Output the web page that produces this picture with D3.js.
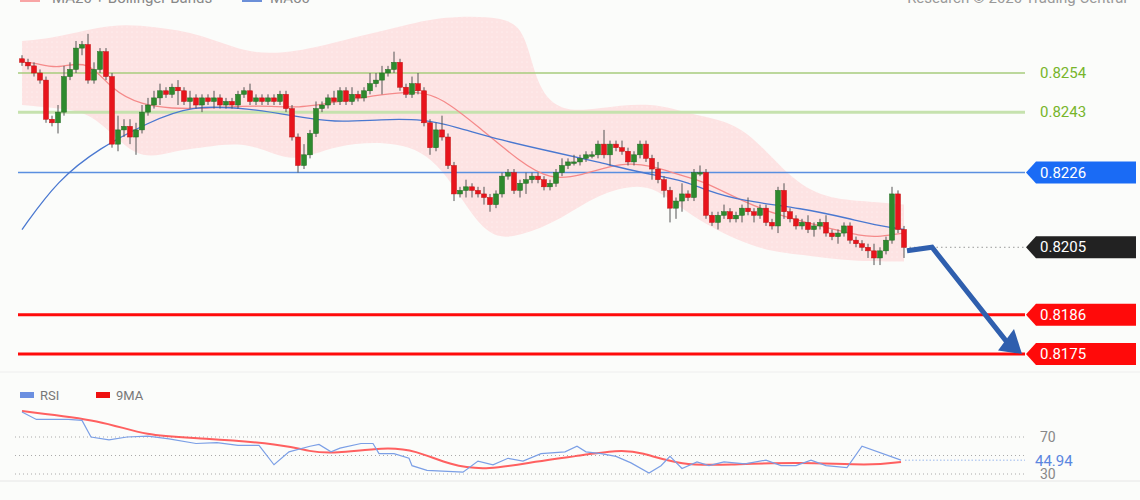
<!DOCTYPE html>
<html><head><meta charset="utf-8">
<script src="https://cdn.jsdelivr.net/npm/d3@7"></script>
<style>body{margin:0;background:#fbfcfa}svg{display:block;font-family:Roboto,Arial,sans-serif}</style>
</head><body><svg id="c" width="1140" height="500"></svg>
<script>
// closes in pips above 0.8200
const closePips=[57,56,54,52,41,40,43,53,55,61,62,52,55,60,53,34,38,39,36,38,43,45,47,49,48,50,49,46,47,45,47,46,47,45,46,45,48,49,46,47,46,47,46,48,44,36,28,31,37,44,45,47,46,49,46,48,47,49,51,52,54,55,57,50,48,51,49,40,33,38,36,28,20,21,22,21,20,19,17,20,25,26,21,23,24,25,24,22,23,26,28,29,29,30,31,31,34,31,34,33,32,29,31,34,30,27,24,21,16,18,20,19,26,26,14,12,14,15,13,14,16,15,14,16,12,11,21,15,13,11,12,10,11,12,9,8,9,11,7,6,5,4,2,4,7,20,10,5];
const upWick=[1,1,1,1,1,1,2,3,2,2,1,3,2,1,1,1,4,2,2,2,2,2,2,2,1,1,2,1,2,1,1,1,2,1,1,1,1,1,2,1,1,1,1,1,1,1,1,3,1,2,1,1,2,1,1,2,1,1,3,2,2,1,3,1,1,2,3,1,1,2,4,1,1,1,2,1,1,2,1,1,1,1,1,1,2,1,1,1,1,1,2,1,2,1,1,1,1,4,1,1,2,1,1,1,1,1,2,1,1,1,3,1,1,2,1,1,1,2,1,1,1,3,1,1,1,1,1,2,1,1,1,2,1,1,2,1,1,1,1,1,1,1,2,1,1,2,1,1];
const loWick=[1,1,1,1,1,1,3,1,1,1,2,1,1,1,1,1,2,2,2,5,1,1,1,2,1,1,4,1,2,1,2,1,2,1,1,1,1,1,1,1,1,1,1,1,1,1,2,1,1,1,1,1,1,1,1,1,1,1,1,1,4,1,1,1,1,1,1,1,2,1,1,1,2,1,2,2,1,2,2,1,1,1,1,2,3,1,1,1,1,1,1,1,1,1,1,1,1,1,3,1,1,1,1,1,1,3,1,2,4,3,3,1,1,1,1,1,2,1,1,1,2,1,2,1,1,1,2,2,1,1,1,1,2,1,1,1,2,1,1,1,1,2,2,2,1,1,1,3];
// indicator read points [candle index, pips]
const ma50Pts=[[0,10],[6,24],[13,33],[21,40],[28,45],[38,44],[45,42],[52,40],[60,41],[67,41],[72,39],[80,35],[88,32],[96,29],[103,26],[110,24],[114,21],[120,18],[130,16],[138,13],[143,11],[147,10]];
const ma20Pts=[[0,57],[2,57],[6,55],[11,58],[15,49],[20,45],[25,44],[30,44],[40,45],[46,44],[53,46],[60,48],[66,49],[70,47],[76,39],[83,29],[88,24],[93,25],[100,29],[105,28],[110,25],[113,24],[120,18],[126,14],[133,11],[140,8],[143,8],[147,9]]; 
const upperPts=[[0,63],[6,64],[15,68],[22,67],[30,65],[38,59],[46,60],[53,63],[63,67],[70,70],[81,70],[84,65],[86,49],[90,43],[96,44],[105,46],[112,42],[120,40],[127,26],[133,19],[140,18],[147,17]];
const lowerPts=[[0,45],[6,44],[12,43],[19,29],[25,32],[30,33],[38,35],[45,28],[52,34],[63,35],[70,29],[77,7],[83,8],[90,13],[96,20],[103,23],[107,20],[113,12],[123,4],[130,3],[138,1],[147,1]];
// RSI read points [x-pixel-index in candles, value]
const rsiPts=[[0,97],[2.4,89],[7.7,89],[10,88],[11.5,70],[14.5,67],[17.5,70],[21,71],[24.5,68],[29,63],[32.5,64],[36,61],[39.5,61],[42,40],[44.5,54],[48,60],[49.5,62],[51.5,54],[53,58],[56.5,63],[58.5,63],[59.5,52],[62,52],[64.5,47],[65,39],[67.5,34],[73.5,32],[76,44],[78.5,40],[81,47],[83.5,44],[86.5,52],[90.5,54],[92.5,60],[94,54],[96.5,52],[99,49],[101.5,42],[104.5,31],[106.5,39],[108,49],[110,36],[112.5,43],[114.5,39],[117,43],[120.5,41],[124,45],[126.5,39],[129,39],[131.5,45],[134,39],[137.5,37],[140,60],[146.5,45]];
const maRsiPts=[[0,98],[13.5,88],[20.5,71],[30,69],[43.5,62],[48,54],[52,52],[60.5,59],[65.5,56],[71.5,39],[77.5,34],[86,44],[92,49],[99.5,56],[103,54],[110,39],[117.5,40],[129.5,43],[141.5,39],[146.5,43]];
const levels=[{v:54,type:"g"},{v:43,type:"g2"},{v:26,type:"b"},{v:5,type:"k"},{v:-14,type:"r"},{v:-25,type:"r"}];
const levelLabels=["0.8254","0.8243","0.8226","0.8205","0.8186","0.8175"];

const svg=d3.select("#c");
const x=d3.scaleLinear().domain([0,147]).range([22,904]);
const y=d3.scaleLinear().domain([54,-25]).range([73,354]);
const yr=d3.scaleLinear().domain([70,30]).range([437,474]);

// bands
const band=upperPts.map((p,i)=>({i:p[0],u:p[1],l:null}));
const up=d3.line().x(d=>x(d[0])).y(d=>y(d[1])).curve(d3.curveBasis);
const areaPath=up(upperPts)+"L"+up(lowerPts.slice().reverse()).slice(1)+"Z";
svg.append("path").attr("d",areaPath).attr("fill","#fde3e3");
const pat=svg.append("defs").append("pattern").attr("id","dots").attr("width",5).attr("height",5).attr("patternUnits","userSpaceOnUse");
pat.append("circle").attr("cx",2).attr("cy",2).attr("r",0.6).attr("fill","#fff");
svg.append("path").attr("d",areaPath).attr("fill","url(#dots)").attr("opacity",0.7);

// level lines
const colors={g:"#a7cc7d",g2:"#c6e2ae",b:"#5a8fe0",k:"#999",r:"#ff0a0a"};
levels.forEach((L,k)=>{
  const yy=y(L.v);
  if(L.type==="k"){
    svg.append("line").attr("x1",905).attr("x2",1025).attr("y1",yy).attr("y2",yy).attr("stroke","#999").attr("stroke-dasharray","1.5,3");
  } else {
    svg.append("line").attr("x1",18).attr("x2",1025).attr("y1",yy).attr("y2",yy).attr("stroke",colors[L.type]).attr("stroke-width",L.type==="r"?3:(L.type==="g2"?3:1.5));
  }
  if(L.type==="g"||L.type==="g2"){
    svg.append("text").attr("x",1040).attr("y",yy+5).attr("fill","#77b52a").attr("font-size",15).text(levelLabels[k]);
  } else {
    const fill=L.type==="b"?"#1a6bf5":L.type==="k"?"#222":"#ff0a0a";
    svg.append("path").attr("d",`M1026,${yy}L1036,${yy-11}H1136V${yy+11}H1036Z`).attr("fill",fill);
    svg.append("text").attr("x",1040).attr("y",yy+5).attr("fill","#fff").attr("font-size",15).text(levelLabels[k]);
  }
});

// MAs
svg.append("path").attr("d",up(ma20Pts)).attr("fill","none").attr("stroke","#f58a8a").attr("stroke-width",1.3);
svg.append("path").attr("d",up(ma50Pts)).attr("fill","none").attr("stroke","#4a78d0").attr("stroke-width",1.3);

// candles
const candles=closePips.map((c,i)=>{const o=i===0?58:closePips[i-1];return {i,o,c,h:Math.max(o,c)+upWick[i],l:Math.min(o,c)-loWick[i]};});
const g=svg.append("g");
candles.forEach(d=>{
  g.append("line").attr("x1",x(d.i)).attr("x2",x(d.i)).attr("y1",y(d.h)).attr("y2",y(d.l)).attr("stroke","#555").attr("stroke-width",1);
  const top=y(Math.max(d.o,d.c)),bot=y(Math.min(d.o,d.c));
  g.append("rect").attr("x",x(d.i)-2.5).attr("width",5).attr("y",top).attr("height",Math.max(1.5,bot-top))
   .attr("fill",d.c>=d.o?"#2e8a2e":"#e8141c").attr("stroke",d.c>=d.o?"#1f6b1f":"#c01010").attr("stroke-width",0.5);
});

// arrow
svg.append("path").attr("d",`M907,${y(4)}L932,${y(5)}L1008,${y(-22)}`).attr("fill","none").attr("stroke","#2f5fae").attr("stroke-width",5);
svg.append("path").attr("d",`M1022,${y(-25)}L998,${y(-24)}L1014,${y(-18)}Z`).attr("fill","#2f5fae");

// top legend (cut off)
svg.append("rect").attr("x",20).attr("y",-4).attr("width",20).attr("height",6).attr("fill","#f8a5a5");
svg.append("text").attr("x",52).attr("y",3).attr("fill","#888").attr("font-size",15).text("MA20 + Bollinger Bands");
svg.append("rect").attr("x",242).attr("y",-4).attr("width",20).attr("height",6).attr("fill","#6b8fd8");
svg.append("text").attr("x",270).attr("y",3).attr("fill","#888").attr("font-size",15).text("MA50");
svg.append("text").attr("x",1127).attr("y",3).attr("text-anchor","end").attr("fill","#999").attr("font-size",15).text("Research © 2020 Trading Central");

// RSI panel
svg.append("line").attr("x1",0).attr("x2",1140).attr("y1",372).attr("y2",372).attr("stroke","#eee");
[70,50,30].forEach(v=>svg.append("line").attr("x1",15).attr("x2",1025).attr("y1",yr(v)).attr("y2",yr(v)).attr("stroke","#aaa").attr("stroke-dasharray","1,3"));
svg.append("line").attr("x1",905).attr("x2",1025).attr("y1",yr(44.94)).attr("y2",yr(44.94)).attr("stroke","#9ab8ee").attr("stroke-dasharray","1.5,2");
const rl=d3.line().x(d=>x(d[0])).y(d=>yr(d[1]));
svg.append("path").attr("d",d3.line().x(d=>x(d[0])).y(d=>yr(d[1])).curve(d3.curveBasis)(maRsiPts)).attr("fill","none").attr("stroke","#f44").attr("stroke-width",2).attr("opacity",0.85);
svg.append("path").attr("d",rl(rsiPts)).attr("fill","none").attr("stroke","#7b9fe6").attr("stroke-width",1.2);
svg.append("text").attr("x",1040).attr("y",yr(70)+5).attr("fill","#888").attr("font-size",14).text("70");
svg.append("text").attr("x",1040).attr("y",yr(30)+5).attr("fill","#888").attr("font-size",14).text("30");
svg.append("rect").attr("x",1030).attr("y",479).attr("width",80).attr("height",21).attr("fill","#fbfcfa");
svg.append("text").attr("x",1035).attr("y",yr(44.94)+6).attr("fill","#5a86e0").attr("font-size",15).text("44.94");
svg.append("line").attr("x1",0).attr("x2",1140).attr("y1",481).attr("y2",481).attr("stroke","#e6e6e6");
svg.append("rect").attr("x",20).attr("y",392).attr("width",14).attr("height",6).attr("fill","#6b8fe0");
svg.append("text").attr("x",40).attr("y",400).attr("fill","#777").attr("font-size",13).text("RSI");
svg.append("rect").attr("x",96).attr("y",392).attr("width",14).attr("height",6).attr("fill","#ee1111");
svg.append("text").attr("x",116).attr("y",400).attr("fill","#777").attr("font-size",13).text("9MA");
</script></body></html>
